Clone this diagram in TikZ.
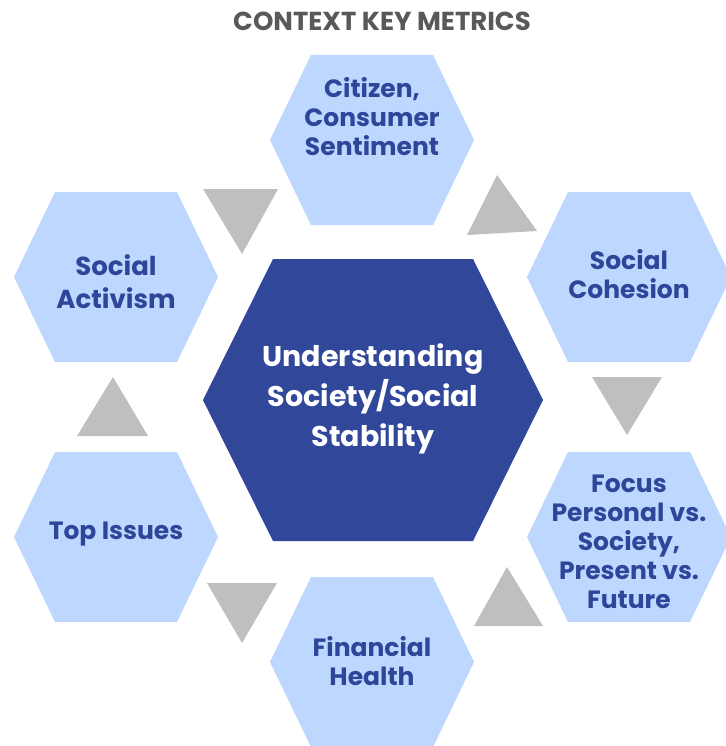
\documentclass[tikz,border=0pt]{standalone}
\usepackage{fontspec}
\setmainfont{Poppins}
\usepackage{xcolor}
\definecolor{cHex}{HTML}{BDD7FF}
\definecolor{cCore}{HTML}{30479A}
\definecolor{cText}{HTML}{2E4699}
\definecolor{cTri}{HTML}{BFBFBF}
\definecolor{cTitle}{HTML}{595959}
\tikzset{
  hex-cell/.style={fill=cHex},
  hex-core/.style={fill=cCore},
  tri-step/.style={fill=cTri},
  node-metric/.style={align=center,inner sep=0pt,text=cText,
    font=\bfseries\fontsize{25}{29}\selectfont},
  node-core/.style={align=center,inner sep=0pt,text=white,
    font=\bfseries\fontsize{28.5}{40}\selectfont},
  node-title/.style={inner sep=0pt,text=cTitle,
    font=\bfseries\fontsize{26}{28}\selectfont},
}
% one light hexagon around the given centre
\newcommand{\hexcell}[1]{%
  \fill[hex-cell,shift={(#1)}] (-102,0) -- (-61,-85) -- (61,-85)
    -- (102,0) -- (61,85) -- (-61,85) -- cycle;}

\begin{document}
\begin{tikzpicture}[x=1pt,y=-1pt]
  \useasboundingbox (0,0) rectangle (725,746);

  % ring of metrics
  \hexcell{372,140}
  \hexcell{629,277}
  \hexcell{629,537}
  \hexcell{372,662}
  \hexcell{116,537}
  \hexcell{116,277}

  % centre
  \fill[hex-core] (203,400) -- (273,259) -- (473,259) -- (543,400)
    -- (473,541) -- (273,541) -- cycle;

  % step markers between the cells
  \fill[tri-step] (203,189) -- (278,189) -- (242,254) -- cycle;
  \fill[tri-step] (497,175) -- (537,231) -- (467,235) -- cycle;
  \fill[tri-step] (592,377) -- (662,377) -- (627,435) -- cycle;
  \fill[tri-step] (507,567) -- (543,626) -- (474,626) -- cycle;
  \fill[tri-step] (207,583) -- (277,583) -- (242,643) -- cycle;
  \fill[tri-step] (113,377) -- (148,436) -- (77,436) -- cycle;

  \node[node-title] (title) at (382,21) {CONTEXT KEY METRICS};
  \node[node-core] (core) at (373,399) {Understanding\\Society/Social\\Stability};

  \node[node-metric] (sentiment) at (372,117) {Citizen,\\Consumer\\Sentiment};
  \node[node-metric] (cohesion) at (629,274) {Social\\Cohesion};
  \node[node-metric] (focus) at (629,542) {Focus\\Personal vs.\\Society,\\Present vs.\\Future};
  \node[node-metric] (finance) at (372,661) {Financial\\Health};
  \node[node-metric] (issues) at (116,534) {Top Issues};
  \node[node-metric,font=\bfseries\fontsize{26}{33}\selectfont] (activism) at (116,282) {Social\\Activism};
\end{tikzpicture}
\end{document}
